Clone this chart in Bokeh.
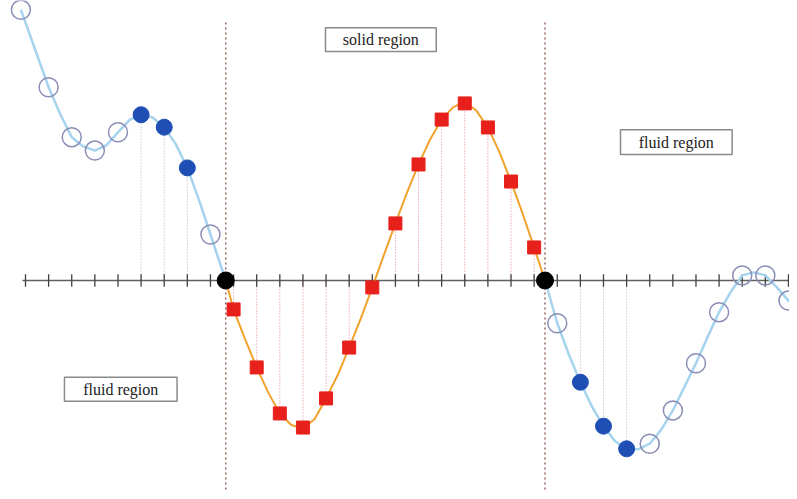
from bokeh.plotting import figure
from bokeh.models import Range1d, Label
from bokeh.embed import file_html
from bokeh.resources import INLINE

# ---- data (x in tick units, y in same units above/below the axis) ----
tick_x = list(range(0, 34))

left_pts_x = [-0.2, 1, 2, 3, 4, 5, 6, 7, 8]
left_pts_y = [11.71, 8.36, 6.20, 5.62, 6.41, 7.17, 6.63, 4.87, 1.99]
left_filled = [False, False, False, False, False, True, True, True, False]

left_curve_x = [-0.2, 1, 1.5, 2, 2.5, 3, 3.5, 4, 4.5, 5, 5.5, 6, 6.5, 7, 7.5, 8, 8.66]
left_curve_y = [11.71, 8.36, 7.2, 6.20, 5.8, 5.62, 5.85, 6.41, 6.95, 7.17, 7.05, 6.63, 5.9, 4.87, 3.5, 1.99, 0.0]

solid_x = [9, 10, 11, 12, 13, 14, 15, 16, 17, 18, 19, 20, 21, 22]
solid_y = [-1.25, -3.76, -5.75, -6.36, -5.10, -2.90, -0.30, 2.47, 5.02, 6.96, 7.66, 6.62, 4.28, 1.43]

solid_curve_x = [8.66, 9, 9.5, 10, 10.5, 11, 11.5, 12, 12.5, 13, 13.5, 14, 14.5, 15, 15.5, 16,
                 16.5, 17, 17.5, 18, 18.5, 19, 19.5, 20, 20.5, 21, 21.5, 22, 22.47]
solid_curve_y = [0.0, -1.25, -2.55, -3.76, -4.85, -5.75, -6.25, -6.40, -6.0, -5.10, -4.1, -2.90, -1.65,
                 -0.30, 1.1, 2.47, 3.8, 5.02, 6.1, 6.96, 7.5, 7.72, 7.35, 6.62, 5.55, 4.28, 2.9, 1.43, 0.0]

right_pts_x = [23, 24, 25, 26, 27, 28, 29, 30, 31, 32, 33]
right_pts_y = [-1.85, -4.40, -6.30, -7.28, -7.06, -5.62, -3.58, -1.37, 0.22, 0.22, -0.87]
right_filled = [False, True, True, True, False, False, False, False, False, False, False]

right_curve_x = [22.47, 23, 23.5, 24, 24.5, 25, 25.5, 26, 26.5, 27, 27.5, 28, 28.5, 29, 29.5,
                 30, 30.5, 31, 31.5, 32, 32.5, 33, 33.45]
right_curve_y = [0.0, -1.85, -3.2, -4.40, -5.45, -6.30, -6.95, -7.28, -7.3, -7.06, -6.45, -5.62,
                 -4.6, -3.58, -2.45, -1.37, -0.5, 0.22, 0.35, 0.22, -0.3, -0.87, -1.35]

interfaces_x = [8.66, 22.47]

labels = ["solid region", "fluid region", "fluid region"]
label_x = [15.37, 28.15, 4.12]
label_y = [10.42, 5.98, -4.70]
box_w = [4.79, 4.83, 4.87]
box_h = [1.03, 1.07, 1.04]

# ---- figure ----
W, H = 789, 491
S = 23.12
X0 = -25 / S
YT = 280 / S
p = figure(width=W, height=H, output_backend="svg", toolbar_location=None,
           x_range=Range1d(X0, X0 + W / S),
           y_range=Range1d(YT - H / S, YT),
           x_axis_type=None, y_axis_type=None, min_border=0)
p.outline_line_color = None
p.grid.visible = False
p.background_fill_color = "white"

# dotted projection lines
p.segment(x0=solid_x, y0=[0] * len(solid_x), x1=solid_x, y1=solid_y,
          line_color="#e58080", line_width=1, line_dash="1 2")
fl_x = [x for x, f in zip(left_pts_x, left_filled) if f] + [x for x, f in zip(right_pts_x, right_filled) if f]
fl_y = [y for y, f in zip(left_pts_y, left_filled) if f] + [y for y, f in zip(right_pts_y, right_filled) if f]
p.segment(x0=fl_x, y0=[0] * len(fl_x), x1=fl_x, y1=fl_y,
          line_color="#b0b0b0", line_width=1, line_dash="1 2")

# interfaces
p.segment(x0=interfaces_x, y0=[11.16] * 2, x1=interfaces_x, y1=[-9.6] * 2,
          line_color="#9a6660", line_width=1.5, line_dash="2 3")

# axis and ticks
p.segment(x0=[-0.13], y0=[0], x1=[33.5], y1=[0], line_color="#606060", line_width=1.5)
p.segment(x0=tick_x, y0=[-0.27] * len(tick_x), x1=tick_x, y1=[0.27] * len(tick_x),
          line_color="#404040", line_width=1.3)

# curves
p.line(left_curve_x, left_curve_y, line_color="#a6d3ee", line_width=2.5)
p.line(right_curve_x, right_curve_y, line_color="#a6d3ee", line_width=2.5)
p.line(solid_curve_x, solid_curve_y, line_color="#f0a22c", line_width=2)

# markers
ox = [x for x, f in zip(left_pts_x, left_filled) if not f] + [x for x, f in zip(right_pts_x, right_filled) if not f]
oy = [y for y, f in zip(left_pts_y, left_filled) if not f] + [y for y, f in zip(right_pts_y, right_filled) if not f]
p.scatter(ox, oy, marker="circle", size=19, fill_color=None, line_color="#8a8db5", line_width=1.5)
p.scatter(fl_x, fl_y, marker="circle", size=16, fill_color="#1f4fb5", line_color="#1f4fb5")
p.scatter(solid_x, solid_y, marker="square", size=13, fill_color="#e8201c", line_color="#e8201c")
p.scatter(interfaces_x, [0, 0], marker="circle", size=17, fill_color="black", line_color="black")

# label boxes
p.rect(x=label_x, y=label_y, width=box_w, height=box_h, fill_color="white",
       line_color="#8a8a8a", line_width=1.5)
for t, x, y in zip(labels, label_x, label_y):
    p.add_layout(Label(x=x, y=y, text=t, text_align="center", text_baseline="middle",
                       text_font="Liberation Serif", text_font_size="16px", text_color="#222222"))

open("out.html", "w").write(file_html(p, INLINE))
